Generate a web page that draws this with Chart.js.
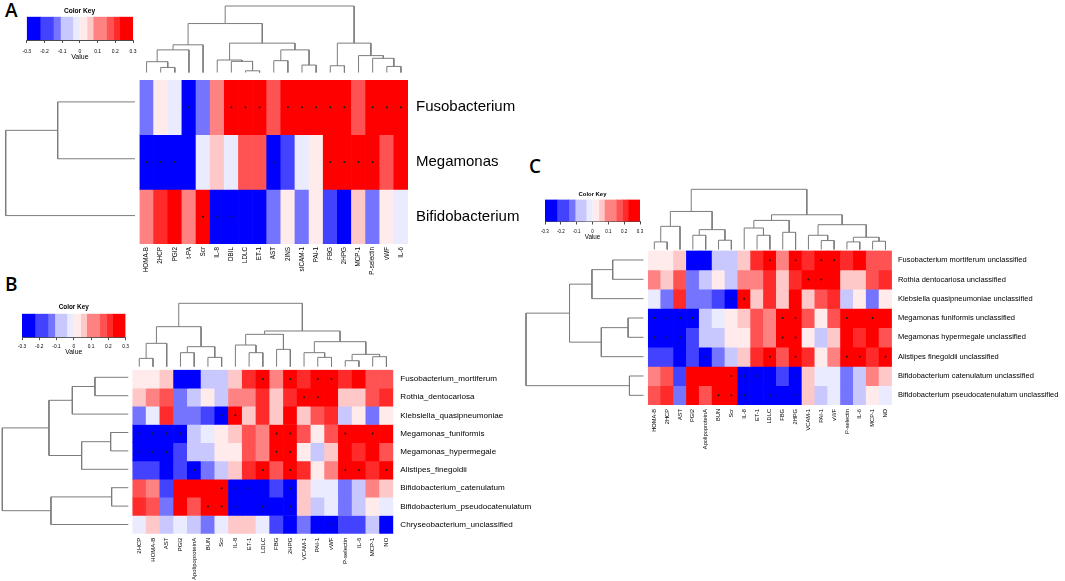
<!DOCTYPE html>
<html><head><meta charset="utf-8">
<script src="https://cdn.jsdelivr.net/npm/chart.js@4.4.0/dist/chart.umd.min.js"></script>
<style>
html,body{margin:0;padding:0;background:#fff}
body{width:1065px;height:581px;position:relative;overflow:hidden}
canvas{position:absolute}
.panel{position:absolute;font-family:'Open Sans',sans-serif;font-size:19px;font-weight:600;line-height:19px;color:#000}
</style></head>
<body>
<div class="panel" style="left:5px;top:1px">A</div>
<div class="panel" style="left:5px;top:275px">B</div>
<div class="panel" style="left:529px;top:157px">C</div>
<script>
// ---------- colour key ----------
const keyBreaks = [-0.3, -0.225, -0.15, -0.11, -0.04, 0, 0.04, 0.075, 0.15, 0.19, 0.225, 0.3];
const keyColors = ['#0000FF', '#4242FF', '#7474FF', '#C8C8FF', '#EBEBFF', '#FFEBEB', '#FFC8C8', '#FF8282', '#FF5252', '#FF2A2A', '#FF0000'];
const keyTicks = [-0.3, -0.2, -0.1, 0, 0.1, 0.2, 0.3];

// ---------- panel A ----------
const colsA = ['HOMA-B','2HCP','PGI2','t-PA','Scr','IL-8','DBIL','LDLC','ET-1','AST','2INS','sICAM-1','PAI-1','FBG','2HPG','MCP-1','P-selectin','vWF','IL-6'];
const rowsA = ['Fusobacterium','Megamonas','Bifidobacterium'];
const valsA_Fusobacterium = [-0.14, 0.02, -0.02, -0.28, -0.14, 0.11, 0.29, 0.28, 0.27, 0.17, 0.27, 0.28, 0.26, 0.28, 0.27, 0.16, 0.27, 0.28, 0.29];
const valsA_Megamonas = [-0.29, -0.28, -0.27, -0.26, -0.02, 0.06, -0.02, 0.17, 0.17, -0.28, -0.2, -0.02, 0.02, 0.28, 0.29, 0.27, 0.26, 0.17, 0.26];
const valsA_Bifidobacterium = [0.11, 0.21, 0.27, 0.11, 0.28, -0.29, -0.28, -0.27, -0.27, -0.12, 0.02, -0.12, 0.02, -0.2, -0.27, 0.06, -0.14, 0.02, -0.02];
const sigA = [[3,6,7,8,10,11,12,13,14,16,17,18],[0,1,2,9,13,14,15,16],[4,5,6]];
const colTreeA = [[-2,-3,15],[-1,1,32],[2,-4,67],[3,-5,82],[-8,-9,5],[-7,5,33],[-6,6,37],[-10,-11,35],[-12,-13,22],[8,9,67],[7,10,87],[4,11,145],[-14,-15,20],[-18,-19,18],[-17,14,42],[-16,15,50],[13,16,87],[12,17,197]];
const rowTreeA = [[-1,-2,232],[1,-3,388]];

// ---------- panel B ----------
const colsB = ['2HCP','HOMA-B','AST','PGI2','ApolipoproteinA','BUN','Scr','IL-8','ET-1','LDLC','FBG','2HPG','VCAM-1','PAI-1','vWF','P-selectin','IL-6','MCP-1','NO'];
const rowsB = ['Fusobacterium_mortiferum','Rothia_dentocariosa','Klebsiella_quasipneumoniae','Megamonas_funiformis','Megamonas_hypermegale','Alistipes_finegoldii','Bifidobacterium_catenulatum','Bifidobacterium_pseudocatenulatum','Chryseobacterium_unclassified'];
const valsB_Fuso = [0.02, 0.02, 0.06, -0.27, -0.28, -0.08, -0.08, 0.06, 0.21, 0.28, 0.11, 0.27, 0.21, 0.28, 0.27, 0.21, 0.26, 0.17, 0.17];
const valsB_Rothia = [0.06, 0.11, 0.17, -0.14, -0.08, 0.02, -0.08, 0.11, 0.11, 0.21, 0.06, 0.21, 0.27, 0.28, 0.26, 0.06, 0.06, 0.16, 0.21];
const valsB_Klebsiella = [-0.14, -0.02, 0.21, -0.12, -0.12, -0.2, -0.28, 0.27, 0.06, 0.21, 0.06, 0.26, 0.06, 0.17, 0.21, -0.08, 0.02, -0.12, 0.02];
const valsB_MegaFuni = [-0.29, -0.29, -0.28, -0.27, -0.08, -0.02, 0.02, 0.06, 0.17, 0.11, 0.28, 0.28, 0.17, 0.02, 0.16, 0.27, 0.26, 0.28, 0.26];
const valsB_MegaHyper = [-0.29, -0.28, -0.27, -0.2, -0.08, -0.08, 0.02, 0.02, 0.17, 0.11, 0.28, 0.28, 0.02, -0.08, 0.06, 0.26, 0.21, 0.27, 0.17];
const valsB_Alistipes = [-0.19, -0.19, -0.26, -0.2, -0.28, -0.12, -0.08, 0.06, 0.21, 0.28, 0.16, 0.27, 0.21, 0.02, 0.11, 0.27, 0.27, 0.21, 0.28];
const valsB_BifiCat = [0.17, 0.11, -0.2, 0.27, 0.27, 0.26, 0.28, -0.28, -0.28, -0.27, -0.2, -0.28, 0.06, -0.02, -0.02, -0.13, -0.08, 0.11, 0.06];
const valsB_BifiPseudo = [0.21, 0.17, -0.13, 0.27, 0.17, 0.28, 0.28, -0.28, -0.27, -0.28, -0.26, -0.28, 0.06, -0.08, -0.02, -0.13, -0.08, 0.02, -0.02];
const valsB_Chryseo = [-0.02, 0.06, -0.08, -0.02, -0.08, -0.13, -0.02, 0.06, 0.06, -0.02, -0.2, -0.27, -0.15, -0.27, -0.28, -0.2, -0.17, -0.08, -0.24];
const sigB = [[9,11,13,14],[12,13],[6,7],[0,1,2,3,10,11,15,17],[0,1,2,10,11],[4,9,11,15,16,18],[6,7,8,11],[5,6,7,9,11],[14]];
const colTreeB = [[-1,-2,25],[1,-3,70],[-4,-5,42],[-6,-7,28],[3,4,60],[2,5,120],[-9,-10,42],[-8,7,65],[-11,-12,52],[8,9,97],[-14,-15,28],[-13,11,42],[-16,-17,18],[-18,-19,30],[13,14,37],[12,15,75],[10,16,107],[6,17,190]];
const rowTreeB = [[-1,-2,100],[1,-3,168],[-4,-5,53],[3,-6,140],[2,4,238],[-7,-8,50],[6,-9,232],[5,7,378]];

// ---------- panel C ----------
const colsC = ['HOMA-B','2HCP','AST','PGI2','ApolipoproteinA','BUN','Scr','IL-8','ET-1','LDLC','FBG','2HPG','VCAM-1','PAI-1','vWF','P-selectin','IL-6','MCP-1','NO'];
const rowsC = ['Fusobacterium mortiferum unclassified','Rothia dentocariosa unclassified','Klebsiella quasipneumoniae unclassified','Megamonas funiformis unclassified','Megamonas hypermegale unclassified','Alistipes finegoldii unclassified','Bifidobacterium catenulatum unclassified','Bifidobacterium pseudocatenulatum unclassified'];
const valsC_Fuso = [0.02, 0.02, 0.06, -0.27, -0.28, -0.08, -0.08, 0.06, 0.21, 0.28, 0.11, 0.27, 0.21, 0.28, 0.27, 0.21, 0.26, 0.17, 0.17];
const valsC_Rothia = [0.11, 0.06, 0.17, -0.14, -0.08, 0.02, -0.08, 0.11, 0.11, 0.21, 0.06, 0.21, 0.27, 0.28, 0.26, 0.06, 0.06, 0.16, 0.21];
const valsC_Klebsiella = [-0.02, -0.14, 0.21, -0.12, -0.12, -0.2, -0.28, 0.27, 0.06, 0.21, 0.06, 0.26, 0.06, 0.17, 0.21, -0.08, 0.02, -0.12, 0.02];
const valsC_MegaFuni = [-0.29, -0.29, -0.28, -0.27, -0.08, -0.02, 0.02, 0.06, 0.17, 0.11, 0.28, 0.28, 0.17, 0.02, 0.16, 0.27, 0.26, 0.28, 0.26];
const valsC_MegaHyper = [-0.28, -0.29, -0.27, -0.2, -0.08, -0.08, 0.02, 0.02, 0.17, 0.11, 0.28, 0.28, 0.02, -0.08, 0.06, 0.26, 0.21, 0.27, 0.17];
const valsC_Alistipes = [-0.19, -0.19, -0.26, -0.2, -0.28, -0.12, -0.08, 0.06, 0.21, 0.28, 0.16, 0.27, 0.21, 0.02, 0.11, 0.27, 0.27, 0.21, 0.28];
const valsC_BifiCat = [0.11, 0.17, -0.2, 0.27, 0.27, 0.26, 0.28, -0.28, -0.28, -0.27, -0.2, -0.28, 0.06, -0.02, -0.02, -0.13, -0.08, 0.11, 0.06];
const valsC_BifiPseudo = [0.17, 0.21, -0.13, 0.27, 0.17, 0.28, 0.28, -0.28, -0.27, -0.28, -0.26, -0.28, 0.06, -0.08, -0.02, -0.13, -0.08, 0.02, -0.02];
const sigC = [[9,11,13,14],[12,13],[6,7],[0,1,2,3,10,11,15,17],[0,1,2,10,11],[4,9,11,15,16,18],[6,7,8,11],[5,6,7,9,11]];
const colTreeC = [[-1,-2,23],[1,-3,70],[-4,-5,43],[-6,-7,28],[3,4,60],[2,5,115],[-9,-10,43],[-8,7,65],[-11,-12,52],[8,9,88],[-14,-15,27],[-13,11,43],[-16,-17,23],[-18,-19,25],[13,14,37],[12,15,75],[10,16,105],[6,17,182]];
const rowTreeC = [[-1,-2,92],[1,-3,154],[-4,-5,46],[3,-6,126],[2,4,221],[-7,-8,42],[5,6,351]];

// ---------- helpers ----------
Chart.defaults.font.family = "'Liberation Sans', Arial, Helvetica, sans-serif";
Chart.defaults.color = '#000';
Chart.defaults.animation = false;
Chart.defaults.responsive = false;
Chart.defaults.events = [];
Chart.defaults.plugins.legend.display = false;
Chart.defaults.plugins.tooltip.enabled = false;

function colorFor(v) {
  for (let i = keyColors.length - 1; i >= 0; i--) if (v >= keyBreaks[i]) return keyColors[i];
  return keyColors[0];
}

function place(x, y, w, h, m) {
  const L = Math.floor(x - m.l), T = Math.floor(y - m.t);
  const R = Math.ceil(x + w + m.r), B = Math.ceil(y + h + m.b);
  const cv = document.createElement('canvas');
  cv.width = R - L; cv.height = B - T;
  cv.style.left = L + 'px'; cv.style.top = T + 'px';
  cv.style.width = (R - L) + 'px'; cv.style.height = (B - T) + 'px';
  document.body.appendChild(cv);
  return {cv, padding: {left: x - L, top: y - T, right: R - (x + w), bottom: B - (y + h)}};
}

function dendroSegments(merges) {
  const pos = [], ht = [], segs = [];
  const node = k => k < 0 ? {p: -k - 1, h: 0} : {p: pos[k - 1], h: ht[k - 1]};
  merges.forEach(([a, b, h], i) => {
    const A = node(a), B = node(b);
    segs.push([[A.p, A.h], [A.p, h], [B.p, h], [B.p, B.h]]);
    pos[i] = (A.p + B.p) / 2; ht[i] = h;
  });
  return segs;
}

function drawDendro(rect, merges, n, orient) {
  const {cv, padding} = place(rect.x, rect.y, rect.w, rect.h, {l: 2, t: 2, r: 2, b: 2});
  const rootH = merges[merges.length - 1][2];
  const datasets = dendroSegments(merges).map(s => ({
    data: s.map(([p, h]) => orient === 'col' ? {x: p, y: h} : {x: h, y: p}),
    showLine: true, borderColor: '#7c7c7c', borderWidth: 1, pointRadius: 0, tension: 0, clip: false
  }));
  const scales = orient === 'col'
    ? {x: {type: 'linear', min: -0.5, max: n - 0.5, display: false}, y: {type: 'linear', min: 0, max: rootH, display: false}}
    : {x: {type: 'linear', min: 0, max: rootH, reverse: true, display: false}, y: {type: 'linear', min: -0.5, max: n - 0.5, reverse: true, display: false}};
  new Chart(cv, {type: 'scatter', data: {datasets}, options: {devicePixelRatio: 1, layout: {padding}, scales}});
}

function drawHeatmap(rect, cols, rows, vals, sig, st) {
  const {cv, padding} = place(rect.x, rect.y, rect.w, rect.h, {l: 5, t: 10, r: st.labelW, b: st.xlabH});
  padding.right -= st.labelW; padding.bottom -= st.xlabH;
  const datasets = rows.map((r, i) => ({
    type: 'bar', label: r, data: cols.map(() => [i, i + 1]),
    backgroundColor: vals[i].map(colorFor), borderWidth: 0, grouped: false,
    barPercentage: 1, categoryPercentage: 1, xAxisID: 'x', yAxisID: 'yv', order: 2
  }));
  datasets.unshift({
    type: 'scatter', label: 'sig',
    data: sig.flatMap((cs, i) => cs.map(c => ({x: cols[c], y: i + 0.5}))),
    xAxisID: 'x', yAxisID: 'yv', pointRadius: 1, pointBackgroundColor: '#1a1a1a', pointBorderWidth: 0, order: 1
  });
  new Chart(cv, {
    type: 'bar',
    data: {labels: cols, datasets},
    options: {
      devicePixelRatio: 1,
      layout: {padding},
      scales: {
        x: {type: 'category', offset: true, grid: {display: false, drawTicks: false}, border: {display: false},
            ticks: {minRotation: 90, maxRotation: 90, autoSkip: false, padding: st.xPad, font: {size: st.xFont}, color: '#000'},
            afterFit: s => { s.height = st.xlabH; }},
        yv: {type: 'linear', min: 0, max: rows.length, reverse: true, display: false},
        yl: {type: 'category', labels: rows, position: 'right', offset: true,
             grid: {display: false, drawTicks: false}, border: {display: false},
             ticks: {autoSkip: false, padding: st.rowPad, font: {size: st.rowFont}, color: '#000'},
             afterFit: s => { s.width = st.labelW; }}
      }
    }
  });
}

function drawKey(rect, st) {
  const tLH = st.titleSize * 1.2;
  const titleTop = st.titleY - tLH / 2;
  const titleGap = rect.y - titleTop - tLH;
  const tl = 3;
  const tickPad = (st.tickY - (rect.y + rect.h)) - tl - st.tickSize * 0.6;
  const axisH = (st.valueY - (rect.y + rect.h)) + st.valueSize * 0.6;
  const {cv, padding} = place(rect.x, rect.y, rect.w, rect.h, {l: 9, t: rect.y - titleTop + 1, r: 9, b: axisH + 1});
  padding.top -= (rect.y - titleTop); padding.bottom -= axisH;
  const datasets = keyColors.map((c, i) => ({
    data: [[keyBreaks[i], keyBreaks[i + 1]]], backgroundColor: c, borderWidth: 0,
    grouped: false, barPercentage: 1, categoryPercentage: 1
  }));
  new Chart(cv, {
    type: 'bar',
    data: {labels: ['key'], datasets},
    options: {
      devicePixelRatio: 1, indexAxis: 'y',
      layout: {padding},
      plugins: {title: {display: true, text: 'Color Key', color: '#000', font: {size: st.titleSize, weight: 'bold'}, padding: {top: 0, bottom: titleGap}}},
      scales: {
        y: {display: false},
        x: {type: 'linear', min: -0.3, max: 0.3,
            afterBuildTicks: s => { s.ticks = keyTicks.map(v => ({value: v})); },
            ticks: {padding: tickPad, font: {size: st.tickSize}, color: '#000',
                    callback: v => (Math.abs(v) < 1e-9 ? '0' : (Math.round(v * 10) / 10).toFixed(1))},
            grid: {display: true, drawOnChartArea: false, drawTicks: true, tickLength: tl, color: '#000', lineWidth: 0.7},
            border: {display: true, color: '#000', width: 0.7},
            title: {display: true, text: 'Value', color: '#000', font: {size: st.valueSize}, padding: 0},
            afterFit: s => { s.height = axisH; }}
      }
    }
  });
}

// ---------- panel A ----------
drawKey({x: 26, y: 16.7, w: 107, h: 23.3}, {titleY: 11, titleSize: 6.6, tickY: 51.5, tickSize: 5, valueY: 57.3, valueSize: 7});
drawDendro({x: 139.5, y: 6, w: 268.5, h: 66.5}, colTreeA, colsA.length, 'col');
drawDendro({x: 5.7, y: 73.5, w: 129.3, h: 170.5}, rowTreeA, rowsA.length, 'row');
drawHeatmap({x: 139.5, y: 73.5, w: 268.5, h: 170.5}, colsA, rowsA,
  [valsA_Fusobacterium, valsA_Megamonas, valsA_Bifidobacterium], sigA,
  {labelW: 130, xlabH: 34, xPad: 3, xFont: 6.3, rowPad: 8, rowFont: 15});

// ---------- panel B ----------
drawKey({x: 22, y: 313.7, w: 103.5, h: 23.5}, {titleY: 307.5, titleSize: 6.4, tickY: 346.5, tickSize: 4.8, valueY: 352.5, valueSize: 6.8});
drawDendro({x: 132.4, y: 303.3, w: 260.9, h: 63.4}, colTreeB, colsB.length, 'col');
drawDendro({x: 2.3, y: 368.1, w: 126, h: 165.6}, rowTreeB, rowsB.length, 'row');
drawHeatmap({x: 132.4, y: 368.1, w: 260.9, h: 165.6}, colsB, rowsB,
  [valsB_Fuso, valsB_Rothia, valsB_Klebsiella, valsB_MegaFuni, valsB_MegaHyper, valsB_Alistipes, valsB_BifiCat, valsB_BifiPseudo, valsB_Chryseo], sigB,
  {labelW: 140, xlabH: 46, xPad: 4, xFont: 6, rowPad: 7, rowFont: 8.1});

// ---------- panel C ----------
drawKey({x: 545, y: 199.5, w: 95, h: 22}, {titleY: 194, titleSize: 5.9, tickY: 232, tickSize: 4.5, valueY: 237.5, valueSize: 6.3});
drawDendro({x: 647.9, y: 189.3, w: 244, h: 60.2}, colTreeC, colsC.length, 'col');
drawDendro({x: 526, y: 250.3, w: 117.5, h: 154.7}, rowTreeC, rowsC.length, 'row');
drawHeatmap({x: 647.9, y: 250.3, w: 244, h: 154.7}, colsC, rowsC,
  [valsC_Fuso, valsC_Rothia, valsC_Klebsiella, valsC_MegaFuni, valsC_MegaHyper, valsC_Alistipes, valsC_BifiCat, valsC_BifiPseudo], sigC,
  {labelW: 172, xlabH: 46, xPad: 4, xFont: 5.7, rowPad: 6, rowFont: 7.5});
</script>
</body></html>
